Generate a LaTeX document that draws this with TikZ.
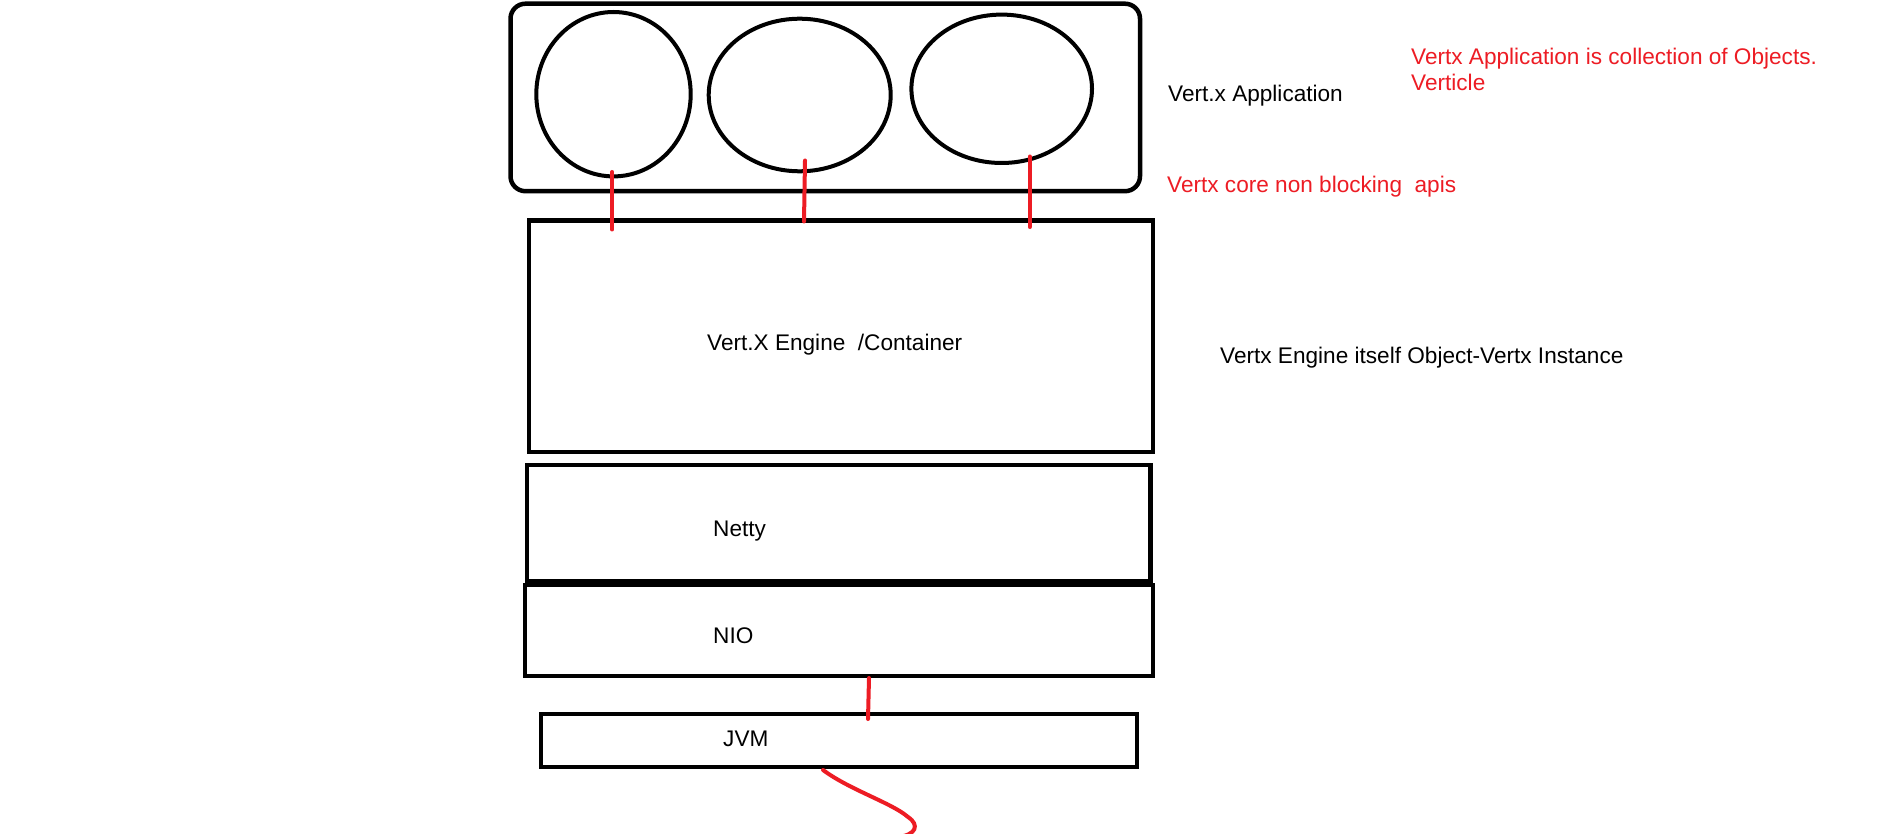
\documentclass[tikz,border=0pt]{standalone}
\usepackage{fontspec}
\setmainfont{Liberation Sans}
\usetikzlibrary{shapes.geometric}
\definecolor{pred}{RGB}{237,28,36}
\begin{document}
\begin{tikzpicture}[x=1pt,y=-1pt,
 box/.style={draw=black,line width=4.5pt,rectangle,inner sep=0pt,outer sep=0pt,line join=miter},
 oval/.style={draw=black,line width=4pt,ellipse,inner sep=0pt},
 lbl/.style={anchor=base west,inner sep=0pt,font=\fontsize{22.6}{26}\selectfont},
 redlbl/.style={lbl,text=pred},
 link/.style={draw=pred,line width=4pt,line cap=round}]
\fill[white] (0,0) rectangle (1898,834);
\useasboundingbox (0,0) rectangle (1898,834);
% boxes
\node[box,rounded corners=15pt,minimum width=629.5pt,minimum height=187.5pt] (app) at (825.25,97.45) {};
\node[oval,minimum width=154.4pt,minimum height=164.4pt] (e1) at (613.5,94.2) {};
\node[oval,minimum width=182pt,minimum height=152.6pt] (e2) at (799.7,95) {};
\node[oval,minimum width=180.6pt,minimum height=148.4pt] (e3) at (1001.7,88.8) {};
\node[box,minimum width=624pt,minimum height=231.3pt] (engine) at (841,336.15) {};
\node[box,minimum width=623.5pt,minimum height=116pt] (netty) at (838.75,523) {};
\node[box,minimum width=628pt,minimum height=91pt] (nio) at (839,630.5) {};
\node[box,minimum width=596pt,minimum height=53pt] (jvm) at (839,740.5) {};
% texts
\node[lbl] (tapp) at (1168,102) {Vert.x Application};
\node[redlbl] (tcoll1) at (1411,65) {Vertx Application is collection of Objects.};
\node[redlbl] (tcoll2) at (1411,91) {Verticle};
\node[redlbl] (tcore) at (1167,193) {Vertx core non blocking\ \ apis};
\node[lbl] (tengine) at (707,350) {Vert.X Engine\ \ /Container};
\node[lbl] (tinst) at (1220,363) {Vertx Engine itself Object-Vertx Instance};
\node[lbl] (tnetty) at (713,536) {Netty};
\node[lbl] (tnio) at (713,643) {NIO};
\node[lbl] (tjvm) at (723,746) {JVM};
% red links
\coordinate (l1a) at (612.3,172); \coordinate (l1b) at (612.3,229.5);
\coordinate (l2a) at (805,160.5); \coordinate (l2b) at (804,221.5);
\coordinate (l3a) at (1029.7,156.5); \coordinate (l3b) at (1029.7,227);
\coordinate (l4a) at (869,678); \coordinate (l4b) at (868,719);
\coordinate (c0) at (823,770); \coordinate (c1) at (908,817); \coordinate (c2) at (898,837);
\draw[link] (l1a) -- (l1b);
\draw[link] (l2a) -- (l2b);
\draw[link] (l3a) -- (l3b);
\draw[link] (l4a) -- (l4b);
\draw[link] (c0) .. controls (850,790) and (892,803) .. (c1) .. controls (920,825) and (916,835) .. (c2);
\end{tikzpicture}
\end{document}
